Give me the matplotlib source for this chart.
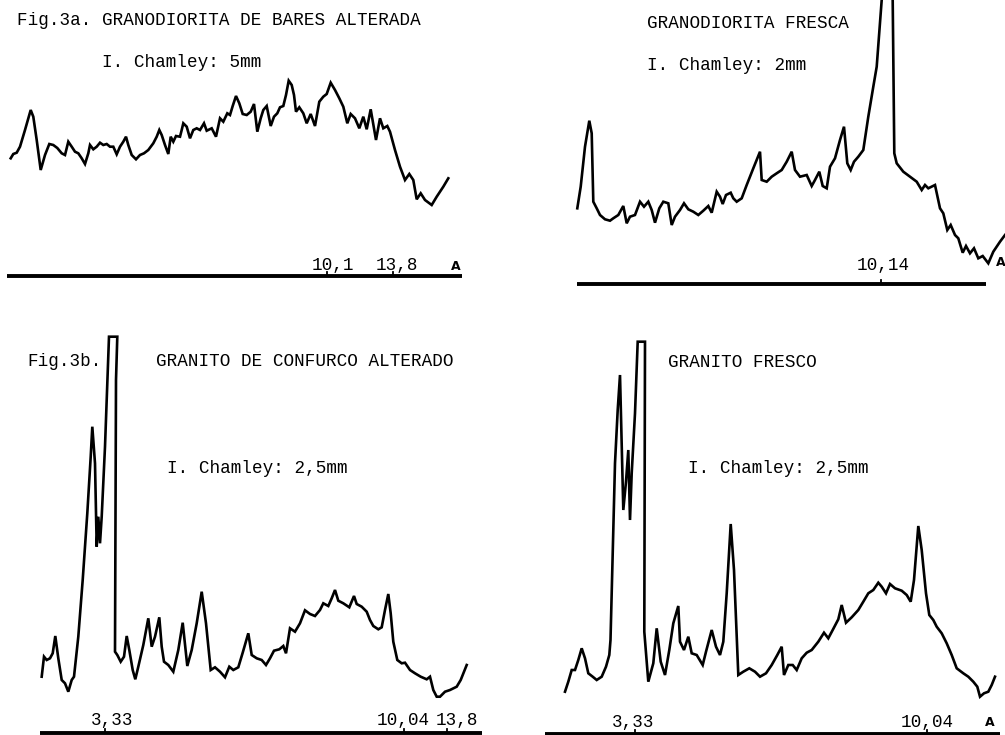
import matplotlib
matplotlib.use("Agg")
import matplotlib.pyplot as plt

# ---------------- data (traced diffractograms, figure-pixel units) ----------------
# Panel 1: Granodiorita de Bares alterada
p1_x = [10.7, 13.3, 16.7, 20, 25, 30.7, 33.3, 36.7, 40.7, 45, 49.3, 53.3, 57.3, 61.7, 65, 68.3,
        71.7, 75, 78.3, 81.7, 85, 88.3, 90, 93.3, 96.7, 100, 103.3, 106.7, 110, 113.3, 116.7,
        120, 123.3, 126, 128.3, 131.7, 136, 140, 144, 148.3, 153.3, 156.7, 159.3, 161.7, 165,
        168.3, 170.7, 173.3, 176, 180, 181.7, 183.3, 186.7, 190, 193.3, 196.7, 200, 204, 206.7,
        211.7, 216, 220, 223.3, 227.3, 230, 232.7, 236, 239.3, 242.7, 246.7, 250.7, 254, 257.3,
        260.7, 263.3, 266.7, 270.7, 274, 277.3, 280, 283.3, 286, 288.7, 291.7, 294, 296, 299.3,
        303.3, 306.7, 310.7, 315, 319.3, 323.3, 326.7, 330.7, 335, 339.3, 343.3, 347.3, 350.7,
        355, 359.3, 363.3, 366.7, 370.7, 376, 380, 383.3, 387.3, 390, 395, 400, 405, 409.3,
        413.3, 416.7, 420.7, 425, 431.7, 436.7, 443.3, 448.3]
p1_y = [158.3, 154, 152.7, 146.7, 130, 110, 116.7, 140, 170, 155, 144, 145, 148, 153.3, 155, 141.7,
        146.7, 151.7, 153.3, 158.3, 164, 153.3, 145, 149.3, 146.7, 142.7, 145, 144, 146.7, 146.7,
        154.3, 146.7, 141.7, 136.7, 145, 155, 159.3, 155, 153.3, 150, 143.3, 136.7, 130, 135, 145,
        154, 136.7, 141.7, 136, 136.7, 130, 123.3, 126.7, 138.3, 130, 128.3, 130, 123.3, 130.7,
        128.3, 136.7, 118.3, 121.7, 113.3, 115, 106, 96, 103.3, 114, 115, 111.7, 104, 131.7,
        118.3, 110, 106, 126, 116.7, 113.3, 107.3, 106, 95, 80.7, 85, 95, 111.7, 107.3,
        113.3, 123.3, 114, 126, 101.7, 96.7, 94, 82.7, 90, 98.3, 106.7, 123.3, 114,
        118.3, 128.3, 116.7, 129.3, 109.3, 140, 118.3, 128.3, 126, 131.7, 150, 166.7, 180, 174,
        180, 199.3, 193.3, 200, 205, 196.7, 186.7, 178.3]

# Panel 2: Granodiorita fresca
p2_x = [577.3, 580.7, 585, 589.3, 591.7, 593.3, 596.7, 600, 605, 610, 613.3, 618.3, 623.3, 626.7,
        630, 635, 640, 644, 648.3, 651.7, 655, 659.3, 663.3, 668.3, 671.7, 675, 680, 684, 688.3,
        693.3, 698.3, 703.3, 708.3, 711.7, 716.7, 720, 722.7, 726, 730.7, 733.3, 736.7, 741.7,
        746.7, 753.3, 760, 761.7, 766.7, 771.7, 776.7, 781.7, 786.7, 791.7, 795, 800, 806.7,
        811.7, 815, 819.3, 822.7, 826.7, 830, 835, 840, 844, 847.3, 850.7, 854, 858.3, 863.3,
        868.3, 873.3, 876.7, 881.7, 884, 891, 892.7, 894.3, 896.7, 903.3, 910, 916.7, 921.7, 925,
        928.3, 935, 940, 943.3, 947.3, 950.7, 955, 958.3, 962.7, 966, 970, 974, 978.3, 982.7,
        988.3, 993.3, 1000, 1005]
p2_y = [208.3, 186.7, 146.7, 120.7, 133.3, 201.7, 208.3, 215, 219.3, 220.7, 218.3, 215, 206, 223.3,
        216.7, 215, 201.7, 206.7, 201.7, 210, 222.7, 208.3, 201.7, 203.3, 225, 216.7, 210, 203.3,
        209.3, 211.7, 215, 210.7, 206, 212.7, 191.7, 196.7, 204, 195, 192.7, 198.3, 201.7, 198.3,
        185, 168.3, 151.7, 180, 181.7, 176.7, 173.3, 170, 161.7, 151.7, 170, 176.7, 175,
        186, 180, 171.7, 186, 188.3, 166.7, 158.3, 140, 126.7, 163.3, 170, 161.7, 156.7, 150,
        116.7, 86.7, 66.7, 0, -40, -40, 0, 153.3, 163.3, 171.7, 176.7, 181.7, 190, 185,
        188.3, 185, 208.3, 213.3, 230, 225, 235, 238.3, 252.7, 246, 253.3, 248.3, 258.3, 256,
        263.3, 251.7, 241.7, 235]

# Panel 3: Granito de Confurco alterado
p3_x = [41.7, 44, 46.7, 50, 52.7, 55.3, 58.3, 61.7, 65, 68.3, 71.7, 74, 78.3, 82.7, 87.3, 90.7,
        92.3, 95, 96.7, 98.3, 100, 101.7, 105, 109, 117.3, 116, 115, 117.3, 120.7, 124, 126.7,
        129.3, 132.7, 135.3, 138.3, 143.3, 148.3, 151.7, 155, 159.3, 161.7, 164, 168.3, 173.3,
        178.3, 182.7, 187.3, 191.7, 196.7, 201.7, 206, 210.7, 215, 220, 225, 229.3, 233.3,
        238.3, 242.7, 248.3, 251.7, 256.7, 261.7, 266, 270, 274, 279.3, 283.3, 286, 290, 295,
        300, 305, 310, 315, 320, 323.3, 328.3, 331.7, 335, 338.3, 343.3, 349.3, 354, 356.7,
        361.7, 366.7, 370, 373.3, 378.3, 381.7, 385, 388.3, 390.7, 393.3, 397.3, 401.7, 405,
        410, 415, 420.7, 426.7, 430, 433.3, 436.7, 440, 445, 450, 456.7, 460.7, 466.7]
p3_y = [676.7, 656.7, 660, 658.3, 653.3, 636, 658.3, 680, 683.3, 691.7, 680, 676.7, 636.7, 580,
        513.3, 456.7, 426.7, 463.3, 546.7, 516.7, 543.3, 516.7, 446.7, 336.7, 336.7, 380, 651.7,
        655, 661.7, 656.7, 636, 650, 670, 679.3, 666.7, 645, 618.3, 646.7, 636.7, 617.3, 646.7,
        661.7, 665, 671.7, 650, 622.7, 666, 650, 623.3, 591.7, 623.3, 670, 667.3, 671.7, 677.3,
        666.7, 670, 667.3, 652.7, 633.3, 655, 658.3, 660, 665, 658.3, 650.7, 649.3, 646, 653.3,
        628.3, 631.7, 623.3, 610.3, 614, 616, 610, 603.3, 606, 598.3, 590, 600.7, 603.3, 607.3,
        596, 604, 606.7, 611.7, 620, 626, 629.3, 627.3, 610, 594, 613.3, 641.7, 660, 663.3,
        662.7, 670, 673.3, 676.7, 679.3, 676.7, 690, 696.7, 696.7, 691.7, 690, 686.7, 680, 665]

# Panel 4: Granito fresco
p4_x = [565, 568.3, 571.7, 575, 578.3, 581.7, 585, 588.3, 592.7, 596.7, 601.7, 606, 609.3, 610.5,
        615, 617.7, 620, 623.3, 626, 628.3, 630, 631.7, 635, 637.7, 645, 644.3, 648.3, 653.3,
        656.7, 660.7, 665, 669.3, 673.3, 678.3, 680, 684, 688.3, 691.7, 696.7, 702.7, 706,
        711.7, 716, 720, 723.3, 726.7, 730.7, 734, 738.3, 743.3, 749.3, 755, 760, 766, 771.7,
        777.3, 781.7, 784, 788.3, 792.7, 796.7, 801.7, 806.7, 811.7, 818.3, 824, 828.3, 832.7,
        838.3, 841.7, 846, 851.7, 858.3, 863.3, 868.3, 873.3, 878.3, 881.7, 886, 890, 895,
        901.7, 906.7, 910.7, 914, 918.3, 921.7, 926, 929.3, 933.3, 936.7, 941.7, 946.7, 951.7,
        956.7, 963.3, 968.3, 973.3, 977.3, 980, 984, 988.3, 991.7, 995]
p4_y = [691.7, 681.7, 670, 670, 660, 648.3, 658.3, 673.3, 676.7, 680, 676.7, 666.7, 655, 640,
        463.3, 410, 375, 510, 481.7, 450, 520, 473.3, 413.3, 341.7, 341.7, 631.7, 681.7, 663.3,
        628.3, 661.7, 675, 650, 623.3, 606, 641.7, 650, 636.7, 653.3, 655, 665, 651.7,
        630, 646.7, 655, 641.7, 593.3, 524, 570, 675, 671.7, 668.3, 671.7, 676.7, 673.3, 665,
        655, 646.7, 675, 665, 665, 670, 658.3, 652.7, 650, 641.7, 632.7, 638.3, 630,
        619.3, 605, 622.7, 617.3, 610, 601.7, 593.3, 590, 582.7, 586.7, 593.3, 584, 588.3,
        590.7, 595, 601.7, 580, 526, 550, 593.3, 615, 620, 626.7, 633.3, 643.3, 655,
        668.3, 673.3, 676.7, 681.7, 686.7, 696.7, 693.3, 691.7, 685, 676.7]

# baselines (x start, x end, y), tick positions and labels
baselines = [(7, 462, 276), (577, 986, 284), (40, 482, 733), (545, 1000, 734)]
tick_x = [[327, 393], [881], [105, 404, 447], [635, 927]]
tick_labels = [["10,1", "13,8"], ["10,14"], ["3,33", "10,04", "13,8"], ["3,33", "10,04"]]
tick_label_x = [[333, 397], [883], [112, 403, 457], [633, 927]]
tick_label_y = [265, 265, 721, 722]
titles = ["Fig.3a. GRANODIORITA DE BARES ALTERADA", "GRANODIORITA FRESCA",
          "GRANITO DE CONFURCO ALTERADO", "GRANITO FRESCO"]
title_pos = [(17, 20), (647, 23), (156, 361), (668, 362)]
subtitles = ["I. Chamley: 5mm", "I. Chamley: 2mm", "I. Chamley: 2,5mm", "I. Chamley: 2,5mm"]
subtitle_pos = [(102, 62), (647, 65), (167, 468), (688, 468)]
angstrom_pos = [(456, 266), (1001, 262), None, (990, 722)]

# ---------------- drawing ----------------
W, H = 1005, 735
fig = plt.figure(figsize=(W / 100, H / 100), dpi=100)
ax = fig.add_axes([0, 0, 1, 1])
ax.set_xlim(0, W)
ax.set_ylim(H, 0)
ax.axis("off")

font = dict(family="Liberation Mono", fontsize=12.7, color="black")

for xs, ys in [(p1_x, p1_y), (p2_x, p2_y), (p3_x, p3_y), (p4_x, p4_y)]:
    ax.plot(xs, ys, color="black", lw=1.9, solid_joinstyle="miter")

for i, (x0, x1, y) in enumerate(baselines):
    ax.plot([x0, x1], [y, y], color="black", lw=2.8, solid_capstyle="butt")
    for tx in tick_x[i]:
        ax.plot([tx, tx], [y, y - 4], color="black", lw=1.3)
    for lab, lx in zip(tick_labels[i], tick_label_x[i]):
        ax.text(lx, tick_label_y[i], lab, ha="center", va="center", **font)
    if angstrom_pos[i] is not None:
        ax.text(angstrom_pos[i][0], angstrom_pos[i][1], "A", ha="center", va="center",
                family="DejaVu Sans", fontsize=9, fontweight="bold")

ax.text(27, 361, "Fig.3b.", ha="left", va="center", **font)
for t, (tx, ty) in zip(titles, title_pos):
    ax.text(tx, ty, t, ha="left", va="center", **font)
for t, (tx, ty) in zip(subtitles, subtitle_pos):
    ax.text(tx, ty, t, ha="left", va="center", **font)

fig.savefig("out.png", dpi=100)
